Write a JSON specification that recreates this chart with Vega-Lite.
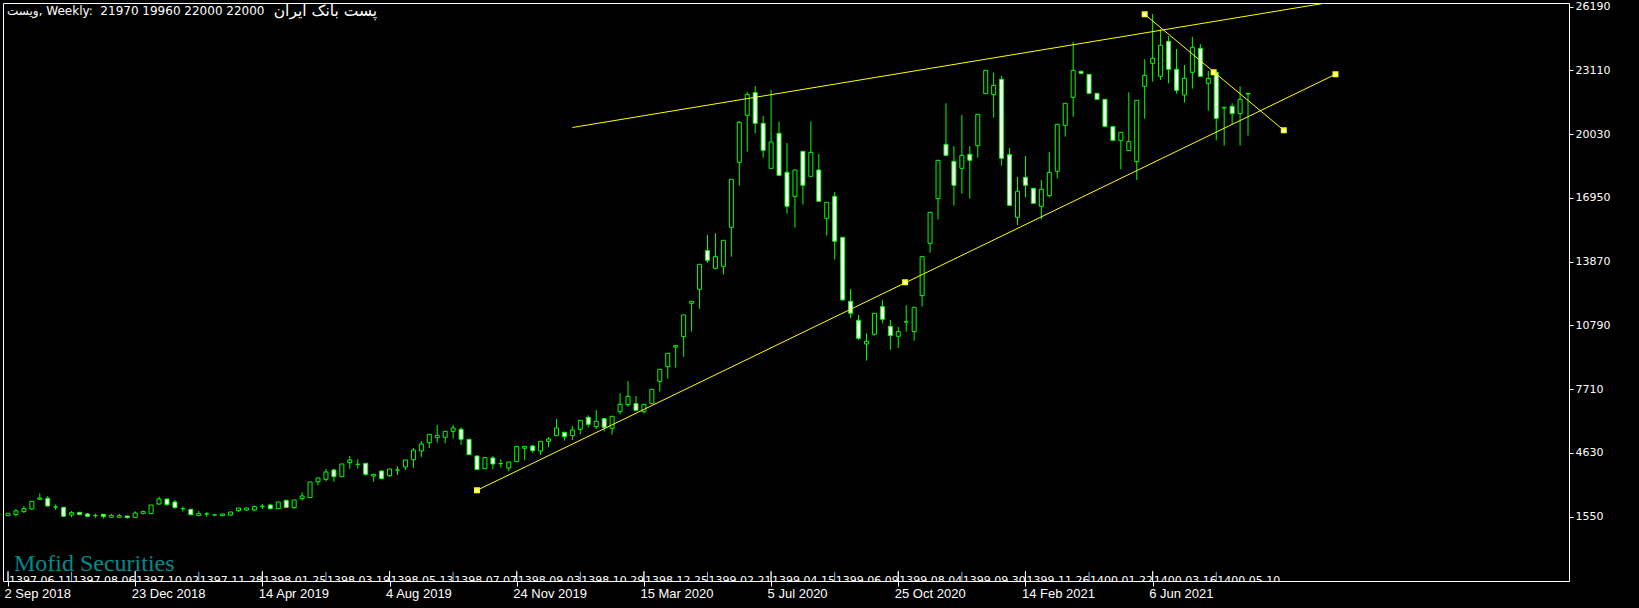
{
  "$schema": "https://vega.github.io/schema/vega-lite/v6.json",
  "width": 1566,
  "height": 578,
  "autosize": {"type": "none"},
  "padding": {"left": 3, "top": 3, "right": 70, "bottom": 27},
  "background": "#000000",
  "config": {"view": {"stroke": "#ffffff", "strokeWidth": 1, "fill": "#000000"}},
  "title": {"text": "ویست, Weekly:\u00a0\u00a021970 19960 22000 22000", "anchor": "start", "orient": "top", "offset": -17, "dx": 4, "font": "DejaVu Sans", "fontSize": 12, "fontWeight": "normal", "color": "#ffffff"},
  "datasets": {
    "candles": [
      {"date":"2018-09-02","open":1603,"high":1716,"low":1590,"close":1716},
      {"date":"2018-09-09","open":1652,"high":1925,"low":1571,"close":1829},
      {"date":"2018-09-16","open":1796,"high":2070,"low":1732,"close":1941},
      {"date":"2018-09-23","open":1925,"high":2296,"low":1877,"close":2296},
      {"date":"2018-09-30","open":2392,"high":2682,"low":2392,"close":2457},
      {"date":"2018-10-07","open":2440,"high":2553,"low":2038,"close":2070},
      {"date":"2018-10-14","open":2022,"high":2151,"low":1877,"close":2022},
      {"date":"2018-10-21","open":2006,"high":2006,"low":1555,"close":1571},
      {"date":"2018-10-28","open":1636,"high":1829,"low":1523,"close":1748},
      {"date":"2018-11-04","open":1764,"high":1780,"low":1620,"close":1652},
      {"date":"2018-11-11","open":1684,"high":1732,"low":1539,"close":1571},
      {"date":"2018-11-18","open":1603,"high":1700,"low":1507,"close":1603},
      {"date":"2018-11-25","open":1668,"high":1668,"low":1458,"close":1571},
      {"date":"2018-12-02","open":1523,"high":1684,"low":1523,"close":1620},
      {"date":"2018-12-09","open":1523,"high":1684,"low":1523,"close":1603},
      {"date":"2018-12-16","open":1587,"high":1590,"low":1458,"close":1507},
      {"date":"2018-12-23","open":1507,"high":1813,"low":1507,"close":1732},
      {"date":"2018-12-30","open":1700,"high":1845,"low":1700,"close":1796},
      {"date":"2019-01-06","open":1700,"high":2118,"low":1700,"close":2118},
      {"date":"2019-01-13","open":2167,"high":2521,"low":2118,"close":2408},
      {"date":"2019-01-20","open":2408,"high":2408,"low":2086,"close":2135},
      {"date":"2019-01-27","open":2263,"high":2360,"low":1941,"close":1990},
      {"date":"2019-02-03","open":1941,"high":2038,"low":1796,"close":1941},
      {"date":"2019-02-10","open":1909,"high":1909,"low":1603,"close":1652},
      {"date":"2019-02-17","open":1603,"high":1829,"low":1603,"close":1700},
      {"date":"2019-02-24","open":1684,"high":1764,"low":1555,"close":1684},
      {"date":"2019-03-03","open":1636,"high":1684,"low":1603,"close":1636},
      {"date":"2019-03-10","open":1603,"high":1684,"low":1603,"close":1684},
      {"date":"2019-03-17","open":1636,"high":1780,"low":1587,"close":1780},
      {"date":"2019-03-24","open":1845,"high":1974,"low":1780,"close":1974},
      {"date":"2019-03-31","open":1877,"high":1974,"low":1829,"close":1974},
      {"date":"2019-04-07","open":1877,"high":2086,"low":1829,"close":2038},
      {"date":"2019-04-14","open":2054,"high":2167,"low":1925,"close":2054},
      {"date":"2019-04-21","open":2118,"high":2183,"low":1909,"close":1941},
      {"date":"2019-04-28","open":1941,"high":2263,"low":1941,"close":2263},
      {"date":"2019-05-05","open":2344,"high":2344,"low":1990,"close":1990},
      {"date":"2019-05-12","open":1990,"high":2360,"low":1941,"close":2360},
      {"date":"2019-05-19","open":2424,"high":2730,"low":2328,"close":2553},
      {"date":"2019-05-26","open":2473,"high":3230,"low":2473,"close":3230},
      {"date":"2019-06-02","open":3246,"high":3423,"low":3069,"close":3423},
      {"date":"2019-06-09","open":3358,"high":3857,"low":3262,"close":3713},
      {"date":"2019-06-16","open":3809,"high":3874,"low":3246,"close":3487},
      {"date":"2019-06-23","open":3487,"high":4099,"low":3487,"close":4099},
      {"date":"2019-06-30","open":4163,"high":4485,"low":3874,"close":4292},
      {"date":"2019-07-07","open":4083,"high":4324,"low":3874,"close":4083},
      {"date":"2019-07-14","open":4131,"high":4131,"low":3535,"close":3600},
      {"date":"2019-07-21","open":3520,"high":3600,"low":3246,"close":3600},
      {"date":"2019-07-28","open":3761,"high":3793,"low":3358,"close":3390},
      {"date":"2019-08-04","open":3535,"high":3857,"low":3487,"close":3857},
      {"date":"2019-08-11","open":3809,"high":3986,"low":3568,"close":3809},
      {"date":"2019-08-18","open":3954,"high":4292,"low":3809,"close":4292},
      {"date":"2019-08-25","open":4308,"high":4872,"low":3906,"close":4775},
      {"date":"2019-09-01","open":4727,"high":5210,"low":4437,"close":5065},
      {"date":"2019-09-08","open":5129,"high":5532,"low":4872,"close":5532},
      {"date":"2019-09-15","open":5371,"high":5982,"low":5129,"close":5484},
      {"date":"2019-09-22","open":5388,"high":5678,"low":5098,"close":5678},
      {"date":"2019-09-29","open":5678,"high":5984,"low":5323,"close":5839},
      {"date":"2019-10-06","open":5774,"high":5871,"low":5018,"close":5291},
      {"date":"2019-10-13","open":5291,"high":5291,"low":4520,"close":4551},
      {"date":"2019-10-20","open":4486,"high":4518,"low":3810,"close":3826},
      {"date":"2019-10-27","open":3874,"high":4420,"low":3874,"close":4406},
      {"date":"2019-11-03","open":4390,"high":4486,"low":3842,"close":4100},
      {"date":"2019-11-10","open":4116,"high":4325,"low":3923,"close":4116},
      {"date":"2019-11-17","open":3907,"high":4196,"low":3746,"close":4196},
      {"date":"2019-11-24","open":4213,"high":4953,"low":4197,"close":4953},
      {"date":"2019-12-01","open":4857,"high":4953,"low":4293,"close":4953},
      {"date":"2019-12-08","open":4969,"high":5018,"low":4647,"close":4744},
      {"date":"2019-12-15","open":4728,"high":5195,"low":4535,"close":5195},
      {"date":"2019-12-22","open":5195,"high":5404,"low":4905,"close":5307},
      {"date":"2019-12-29","open":5468,"high":6273,"low":5468,"close":5839},
      {"date":"2020-01-05","open":5629,"high":5629,"low":5227,"close":5420},
      {"date":"2020-01-12","open":5468,"high":5935,"low":5259,"close":5742},
      {"date":"2020-01-19","open":5774,"high":6209,"low":5533,"close":6209},
      {"date":"2020-01-26","open":6354,"high":6450,"low":5871,"close":6016},
      {"date":"2020-02-02","open":5903,"high":6708,"low":5790,"close":6161},
      {"date":"2020-02-09","open":6289,"high":6289,"low":5678,"close":5871},
      {"date":"2020-02-16","open":5823,"high":6402,"low":5517,"close":6402},
      {"date":"2020-02-23","open":6628,"high":7513,"low":6499,"close":6982},
      {"date":"2020-03-01","open":6966,"high":8109,"low":6869,"close":7368},
      {"date":"2020-03-08","open":7014,"high":7384,"low":6660,"close":6692},
      {"date":"2020-03-15","open":6628,"high":6982,"low":6531,"close":6982},
      {"date":"2020-03-22","open":7014,"high":7706,"low":7014,"close":7706},
      {"date":"2020-03-29","open":8093,"high":8672,"low":7594,"close":8672},
      {"date":"2020-04-05","open":8801,"high":9445,"low":8222,"close":9445},
      {"date":"2020-04-12","open":9750,"high":9815,"low":8753,"close":9815},
      {"date":"2020-04-19","open":10252,"high":11298,"low":9282,"close":11298},
      {"date":"2020-04-26","open":11862,"high":11959,"low":10494,"close":11959},
      {"date":"2020-05-03","open":12538,"high":13746,"low":11604,"close":13746},
      {"date":"2020-05-10","open":14406,"high":15163,"low":13826,"close":13939},
      {"date":"2020-05-17","open":13552,"high":15243,"low":13500,"close":14116},
      {"date":"2020-05-24","open":13649,"high":14905,"low":13247,"close":14905},
      {"date":"2020-05-31","open":15533,"high":17851,"low":14116,"close":17851},
      {"date":"2020-06-07","open":18672,"high":20669,"low":17545,"close":20604},
      {"date":"2020-06-14","open":20942,"high":22069,"low":19188,"close":21957},
      {"date":"2020-06-21","open":22037,"high":22359,"low":20073,"close":20556},
      {"date":"2020-06-28","open":20556,"high":20910,"low":18898,"close":19252},
      {"date":"2020-07-05","open":18382,"high":22166,"low":18382,"close":19654},
      {"date":"2020-07-12","open":20073,"high":20637,"low":18000,"close":18044},
      {"date":"2020-07-19","open":18189,"high":19606,"low":16193,"close":16547},
      {"date":"2020-07-26","open":17030,"high":18302,"low":15517,"close":18302},
      {"date":"2020-08-02","open":19204,"high":19204,"low":16628,"close":17562},
      {"date":"2020-08-09","open":17996,"high":20637,"low":17996,"close":19155},
      {"date":"2020-08-16","open":18302,"high":19075,"low":16789,"close":16789},
      {"date":"2020-08-23","open":15968,"high":16740,"low":15131,"close":16740},
      {"date":"2020-08-30","open":17030,"high":17240,"low":13971,"close":14857},
      {"date":"2020-09-06","open":15050,"high":15050,"low":12000,"close":12023},
      {"date":"2020-09-13","open":11959,"high":12554,"low":11154,"close":11379},
      {"date":"2020-09-20","open":11041,"high":11299,"low":10089,"close":10172},
      {"date":"2020-09-27","open":9898,"high":10413,"low":9093,"close":10027},
      {"date":"2020-10-04","open":10365,"high":11379,"low":10300,"close":11379},
      {"date":"2020-10-11","open":11701,"high":12023,"low":10900,"close":11090},
      {"date":"2020-10-18","open":10751,"high":11057,"low":9606,"close":10301},
      {"date":"2020-10-25","open":10268,"high":10719,"low":9700,"close":10494},
      {"date":"2020-11-01","open":10960,"high":11766,"low":10494,"close":10960},
      {"date":"2020-11-08","open":10494,"high":11669,"low":10059,"close":11669},
      {"date":"2020-11-15","open":12232,"high":14116,"low":11701,"close":14116},
      {"date":"2020-11-22","open":14760,"high":16257,"low":14309,"close":16257},
      {"date":"2020-11-29","open":16917,"high":18769,"low":15903,"close":18769},
      {"date":"2020-12-06","open":19542,"high":21522,"low":19010,"close":19010},
      {"date":"2020-12-13","open":18721,"high":19445,"low":16579,"close":17562},
      {"date":"2020-12-20","open":18382,"high":20959,"low":17159,"close":19010},
      {"date":"2020-12-27","open":19059,"high":19445,"low":16917,"close":18769},
      {"date":"2021-01-03","open":19477,"high":20991,"low":18898,"close":20991},
      {"date":"2021-01-10","open":21989,"high":23116,"low":21989,"close":23116},
      {"date":"2021-01-17","open":21941,"high":23019,"low":20830,"close":22391},
      {"date":"2021-01-24","open":22681,"high":22842,"low":18511,"close":18866},
      {"date":"2021-01-31","open":19043,"high":19365,"low":16595,"close":16595},
      {"date":"2021-02-07","open":16016,"high":17964,"low":15645,"close":17272},
      {"date":"2021-02-14","open":17948,"high":18978,"low":16982,"close":17562},
      {"date":"2021-02-21","open":17417,"high":17417,"low":16692,"close":16692},
      {"date":"2021-02-28","open":16547,"high":17819,"low":15919,"close":17369},
      {"date":"2021-03-07","open":17062,"high":19172,"low":16982,"close":18189},
      {"date":"2021-03-14","open":18238,"high":20508,"low":17884,"close":20508},
      {"date":"2021-03-21","open":20460,"high":21522,"low":19912,"close":21522},
      {"date":"2021-03-28","open":21812,"high":24485,"low":20878,"close":23116},
      {"date":"2021-04-04","open":23068,"high":23100,"low":22950,"close":22971},
      {"date":"2021-04-11","open":22923,"high":22923,"low":22005,"close":22005},
      {"date":"2021-04-18","open":22005,"high":22005,"low":21715,"close":21715},
      {"date":"2021-04-25","open":21716,"high":21716,"low":20412,"close":20412},
      {"date":"2021-05-02","open":20396,"high":20396,"low":19736,"close":19736},
      {"date":"2021-05-09","open":19720,"high":20122,"low":18335,"close":20122},
      {"date":"2021-05-16","open":19237,"high":22054,"low":19237,"close":19672},
      {"date":"2021-05-23","open":18706,"high":21668,"low":17820,"close":21668},
      {"date":"2021-05-30","open":22344,"high":23648,"low":20782,"close":22876},
      {"date":"2021-06-06","open":23455,"high":25838,"low":22570,"close":23697},
      {"date":"2021-06-13","open":22827,"high":25113,"low":22650,"close":24324},
      {"date":"2021-06-20","open":24518,"high":24775,"low":22489,"close":23165},
      {"date":"2021-06-27","open":23165,"high":24147,"low":22000,"close":22151},
      {"date":"2021-07-04","open":21925,"high":23374,"low":21555,"close":22731},
      {"date":"2021-07-11","open":23020,"high":24727,"low":22232,"close":24228},
      {"date":"2021-07-18","open":24180,"high":24389,"low":22827,"close":22827},
      {"date":"2021-07-25","open":22489,"high":23085,"low":21169,"close":22731},
      {"date":"2021-08-01","open":23020,"high":23020,"low":19736,"close":20798},
      {"date":"2021-08-08","open":21300,"high":21330,"low":19478,"close":21330},
      {"date":"2021-08-15","open":21378,"high":21523,"low":20525,"close":21024},
      {"date":"2021-08-22","open":21024,"high":22344,"low":19478,"close":21716},
      {"date":"2021-08-29","open":21970,"high":22000,"low":19960,"close":22000}
    ],
    "lines": [
      {"line":"upper","date":"2020-01-12","value":20354},
      {"line":"upper","date":"2021-12-12","value":26700},
      {"line":"lower","date":"2019-10-20","value":2828},
      {"line":"lower","date":"2021-11-14","value":22924},
      {"line":"down","date":"2021-05-30","value":25823},
      {"line":"down","date":"2021-09-29T12:00:00Z","value":20219}
    ],
    "handles": [
      {"date":"2019-10-20","value":2828},
      {"date":"2020-10-31","value":12876},
      {"date":"2021-11-14","value":22924},
      {"date":"2021-05-30","value":25823},
      {"date":"2021-07-29T18:00:00Z","value":23021},
      {"date":"2021-09-29T12:00:00Z","value":20219}
    ],
    "axisdates": [
      {"date":"2018-09-02"},{"date":"2018-12-23"},{"date":"2019-04-14"},{"date":"2019-08-04"},{"date":"2019-11-24"},
      {"date":"2020-03-15"},{"date":"2020-07-05"},{"date":"2020-10-25"},{"date":"2021-02-14"},{"date":"2021-06-06"}
    ],
    "pdates": [
      {"date":"2018-09-02","label":"1397.06.11"},
      {"date":"2018-10-28","label":"1397.08.06"},
      {"date":"2018-12-23","label":"1397.10.02"},
      {"date":"2019-02-17","label":"1397.11.28"},
      {"date":"2019-04-14","label":"1398.01.25"},
      {"date":"2019-06-09","label":"1398.03.19"},
      {"date":"2019-08-04","label":"1398.05.13"},
      {"date":"2019-09-29","label":"1398.07.07"},
      {"date":"2019-11-24","label":"1398.09.03"},
      {"date":"2020-01-19","label":"1398.10.29"},
      {"date":"2020-03-15","label":"1398.12.25"},
      {"date":"2020-05-10","label":"1399.02.21"},
      {"date":"2020-07-05","label":"1399.04.15"},
      {"date":"2020-08-30","label":"1399.06.09"},
      {"date":"2020-10-25","label":"1399.08.04"},
      {"date":"2020-12-20","label":"1399.09.30"},
      {"date":"2021-02-14","label":"1399.11.26"},
      {"date":"2021-04-11","label":"1400.01.22"},
      {"date":"2021-06-06","label":"1400.03.16"},
      {"date":"2021-08-01","label":"1400.05.10"}
    ]
  },
  "layer": [
    {
      "data": {"name": "candles"},
      "mark": {"type": "rule", "color": "#00ff00", "strokeWidth": 1, "clip": true},
      "encoding": {
        "x": {"field": "date", "type": "temporal",
          "scale": {"type": "utc", "domain": ["2018-09-02T00:00:00Z", "2022-06-03T06:00:00Z"]},
          "axis": {"values": ["2018-09-02T00:00:00Z","2018-12-23T00:00:00Z","2019-04-14T00:00:00Z","2019-08-04T00:00:00Z","2019-11-24T00:00:00Z","2020-03-15T00:00:00Z","2020-07-05T00:00:00Z","2020-10-25T00:00:00Z","2021-02-14T00:00:00Z","2021-06-06T00:00:00Z"],
            "labelExpr": "utcFormat(datum.value, '%-d %b %Y')", "title": null, "grid": false, "domain": false,
            "tickColor": "#ffffff", "tickSize": 5, "labelColor": "#ffffff", "labelFont": "Liberation Sans", "labelFontSize": 13,
            "labelAlign": "left", "labelBaseline": "top", "labelPadding": 1, "labelOffset": -4, "labelOverlap": false, "labelFlush": false, "labelBound": false}},
        "y": {"field": "low", "type": "quantitative",
          "scale": {"domain": [-1554, 26369], "nice": false, "zero": false},
          "axis": {"orient": "right", "values": [1550,4630,7710,10790,13870,16950,20030,23110,26190], "format": "d", "title": null, "grid": false, "domain": false,
            "tickColor": "#ffffff", "tickSize": 4, "labelColor": "#ffffff", "labelFont": "DejaVu Sans", "labelFontSize": 11, "labelPadding": 2, "labelOverlap": false, "labelFlush": false, "labelBound": false}},
        "y2": {"field": "high"}
      }
    },
    {
      "data": {"name": "candles"},
      "mark": {"type": "bar", "width": 4, "stroke": "#00ff00", "strokeWidth": 1, "clip": true},
      "encoding": {
        "x": {"field": "date", "type": "temporal"},
        "y": {"field": "open", "type": "quantitative"},
        "y2": {"field": "close"},
        "fill": {"condition": {"test": "datum.close < datum.open", "value": "#ffffff"}, "value": "#000000"}
      }
    },
    {
      "data": {"name": "pdates"},
      "mark": {"type": "rule", "color": "#7fb3e6", "strokeWidth": 1, "clip": true},
      "encoding": {
        "x": {"field": "date", "type": "temporal"},
        "y": {"datum": -1554, "type": "quantitative"},
        "y2": {"datum": -1110}
      }
    },
    {
      "data": {"name": "axisdates"},
      "mark": {"type": "rule", "color": "#ffffff", "strokeWidth": 1, "clip": true},
      "encoding": {
        "x": {"field": "date", "type": "temporal"},
        "y": {"datum": -1554, "type": "quantitative"},
        "y2": {"datum": -1070}
      }
    },
    {
      "data": {"name": "pdates"},
      "mark": {"type": "text", "align": "left", "baseline": "alphabetic", "dx": 1, "font": "DejaVu Sans", "fontSize": 11, "color": "#ffffff", "clip": true},
      "encoding": {
        "x": {"field": "date", "type": "temporal"},
        "y": {"datum": -1690, "type": "quantitative"},
        "text": {"field": "label"}
      }
    },
    {
      "data": {"name": "lines"},
      "mark": {"type": "line", "color": "#ffff00", "strokeWidth": 1, "clip": true},
      "encoding": {
        "x": {"field": "date", "type": "temporal"},
        "y": {"field": "value", "type": "quantitative"},
        "detail": {"field": "line"}
      }
    },
    {
      "data": {"name": "handles"},
      "mark": {"type": "point", "shape": "square", "filled": true, "size": 20, "color": "#ffffff", "stroke": "#ffff00", "strokeWidth": 1.5, "opacity": 1, "clip": true},
      "encoding": {
        "x": {"field": "date", "type": "temporal"},
        "y": {"field": "value", "type": "quantitative"}
      }
    },
    {
      "data": {"values": [{"name": "پست بانک ایران"}]},
      "mark": {"type": "text", "align": "left", "baseline": "alphabetic", "font": "DejaVu Sans", "fontSize": 15.5, "color": "#ffffff"},
      "encoding": {
        "x": {"datum": {"year": 2019, "month": 4, "date": 24, "utc": true}, "type": "temporal"},
        "y": {"datum": 25740, "type": "quantitative"},
        "text": {"field": "name"}
      }
    },
    {
      "data": {"values": [{"name": "Mofid Securities"}]},
      "mark": {"type": "text", "align": "left", "baseline": "alphabetic", "font": "Liberation Serif", "fontSize": 24, "color": "#008b8b"},
      "encoding": {
        "x": {"datum": {"year": 2018, "month": 9, "date": 7, "hours": 6, "utc": true}, "type": "temporal"},
        "y": {"datum": -1080, "type": "quantitative"},
        "text": {"field": "name"}
      }
    }
  ]
}
